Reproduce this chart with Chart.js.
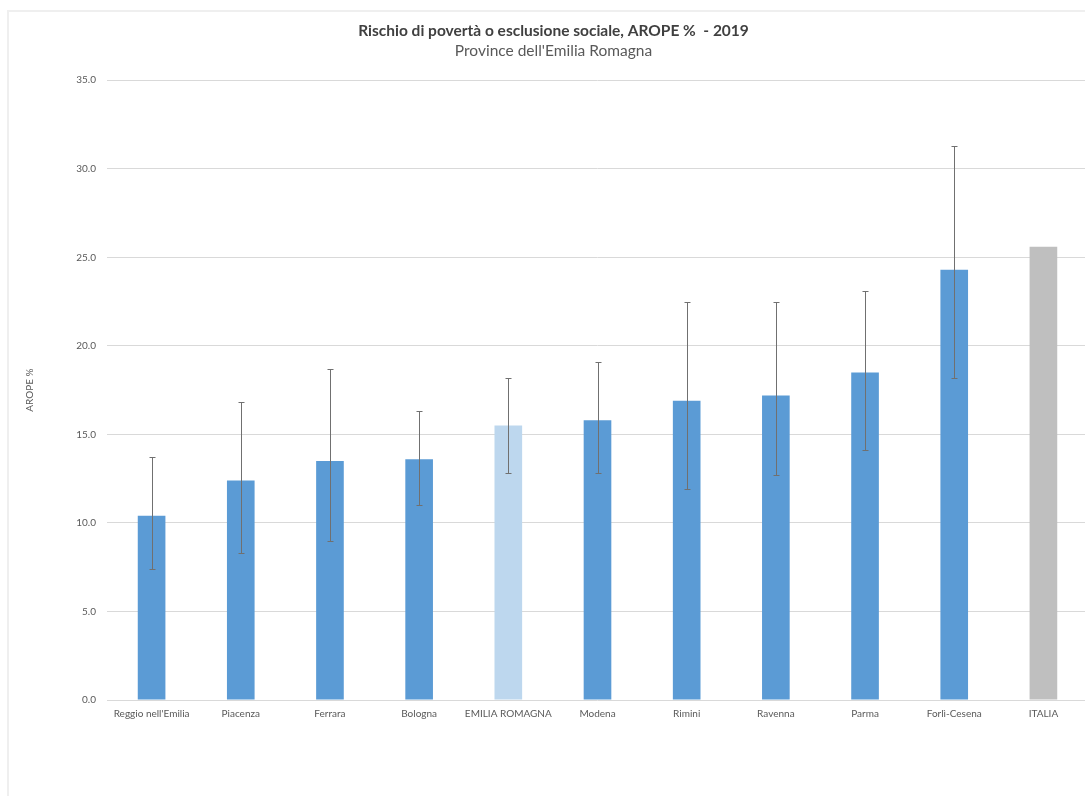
<!DOCTYPE html>
<html>
<head>
<meta charset="utf-8">
<script src="https://cdn.jsdelivr.net/npm/chart.js@4/dist/chart.umd.min.js"></script>
<style>
  html, body { margin: 0; padding: 0; background: #ffffff; overflow: hidden; width: 1085px; height: 796px; }
  #frame { position: absolute; left: 7px; top: 10px; width: 1100px; height: 800px; border-left: 2px solid #efefef; border-top: 2px solid #efefef; }
  canvas { position: absolute; left: 0; top: 0; }
</style>
</head>
<body>
<div id="frame"></div>
<canvas id="c" width="1088" height="796"></canvas>
<script>
const categories = ["Reggio nell'Emilia", "Piacenza", "Ferrara", "Bologna", "EMILIA ROMAGNA", "Modena", "Rimini", "Ravenna", "Parma", "Forlì-Cesena", "ITALIA"];
const aropeValues = [10.4, 12.4, 13.5, 13.6, 15.5, 15.8, 16.9, 17.2, 18.5, 24.3, 25.6];
const errorUpper = [13.7, 16.8, 18.7, 16.3, 18.2, 19.1, 22.5, 22.5, 23.1, 31.3, null];
const errorLower = [7.4, 8.3, 9.0, 11.0, 12.8, 12.8, 11.9, 12.7, 14.1, 18.2, null];
const yTicks = [0, 5, 10, 15, 20, 25, 30, 35];

const barColors = categories.map(c => c === "EMILIA ROMAGNA" ? "#BDD7EE" : (c === "ITALIA" ? "#BFBFBF" : "#5B9BD5"));

const errorBarPlugin = {
  id: 'errorBars',
  afterDatasetsDraw(chart) {
    const meta = chart.getDatasetMeta(0);
    const ys = chart.scales.y;
    const ctx = chart.ctx;
    ctx.save();
    ctx.strokeStyle = '#707070';
    ctx.lineWidth = 1;
    meta.data.forEach((bar, i) => {
      const hi = errorUpper[i], lo = errorLower[i];
      if (hi == null || lo == null) return;
      const x = Math.round(bar.x) + 0.5;
      const yh = Math.round(ys.getPixelForValue(hi)) + 0.5;
      const yl = Math.round(ys.getPixelForValue(lo)) + 0.5;
      ctx.beginPath();
      ctx.moveTo(x, yh); ctx.lineTo(x, yl);
      ctx.moveTo(x - 3, yh); ctx.lineTo(x + 3, yh);
      ctx.moveTo(x - 3, yl); ctx.lineTo(x + 3, yl);
      ctx.stroke();
    });
    ctx.restore();
  }
};

const FONT = "Lato, 'Open Sans', sans-serif";

new Chart(document.getElementById('c'), {
  type: 'bar',
  data: {
    labels: categories,
    datasets: [{
      label: 'AROPE %',
      data: aropeValues,
      backgroundColor: barColors,
      borderWidth: 0,
      barPercentage: 0.62,
      categoryPercentage: 0.5
    }]
  },
  options: {
    responsive: false,
    animation: false,
    devicePixelRatio: 1,
    layout: { padding: { left: 19, right: 0, top: 10, bottom: 0 } },
    plugins: {
      legend: { display: false },
      tooltip: { enabled: false },
      title: {
        display: true,
        text: "Rischio di povertà o esclusione sociale, AROPE %  - 2019",
        color: '#404040',
        font: { family: FONT, size: 15.5, weight: 'bold' },
        padding: { top: 11.5, bottom: 1.5 }
      },
      subtitle: {
        display: true,
        text: "Province dell'Emilia Romagna",
        color: '#595959',
        font: { family: FONT, size: 15.5 },
        padding: { top: 0, bottom: 20 }
      }
    },
    scales: {
      x: {
        grid: { display: false, drawTicks: false },
        border: { display: false },
        ticks: { color: '#595959', font: { family: FONT, size: 10 }, padding: 8, maxRotation: 0, autoSkip: false },
        afterFit(scale) { scale.height = 96; }
      },
      y: {
        min: 0,
        max: 35,
        afterBuildTicks(scale) { scale.ticks = yTicks.map(v => ({ value: v })); },
        grid: { color: '#d9d9d9', lineWidth: 1, drawTicks: false },
        border: { display: false },
        ticks: {
          color: '#595959',
          font: { family: FONT, size: 10 },
          padding: 11,
          callback: v => Number(v).toFixed(1)
        },
        title: {
          display: true,
          text: 'AROPE %',
          color: '#595959',
          font: { family: FONT, size: 10 },
          padding: { top: 5, bottom: 0 }
        },
        afterFit(scale) { scale.width = 88; }
      }
    }
  },
  plugins: [errorBarPlugin]
});
</script>
</body>
</html>
